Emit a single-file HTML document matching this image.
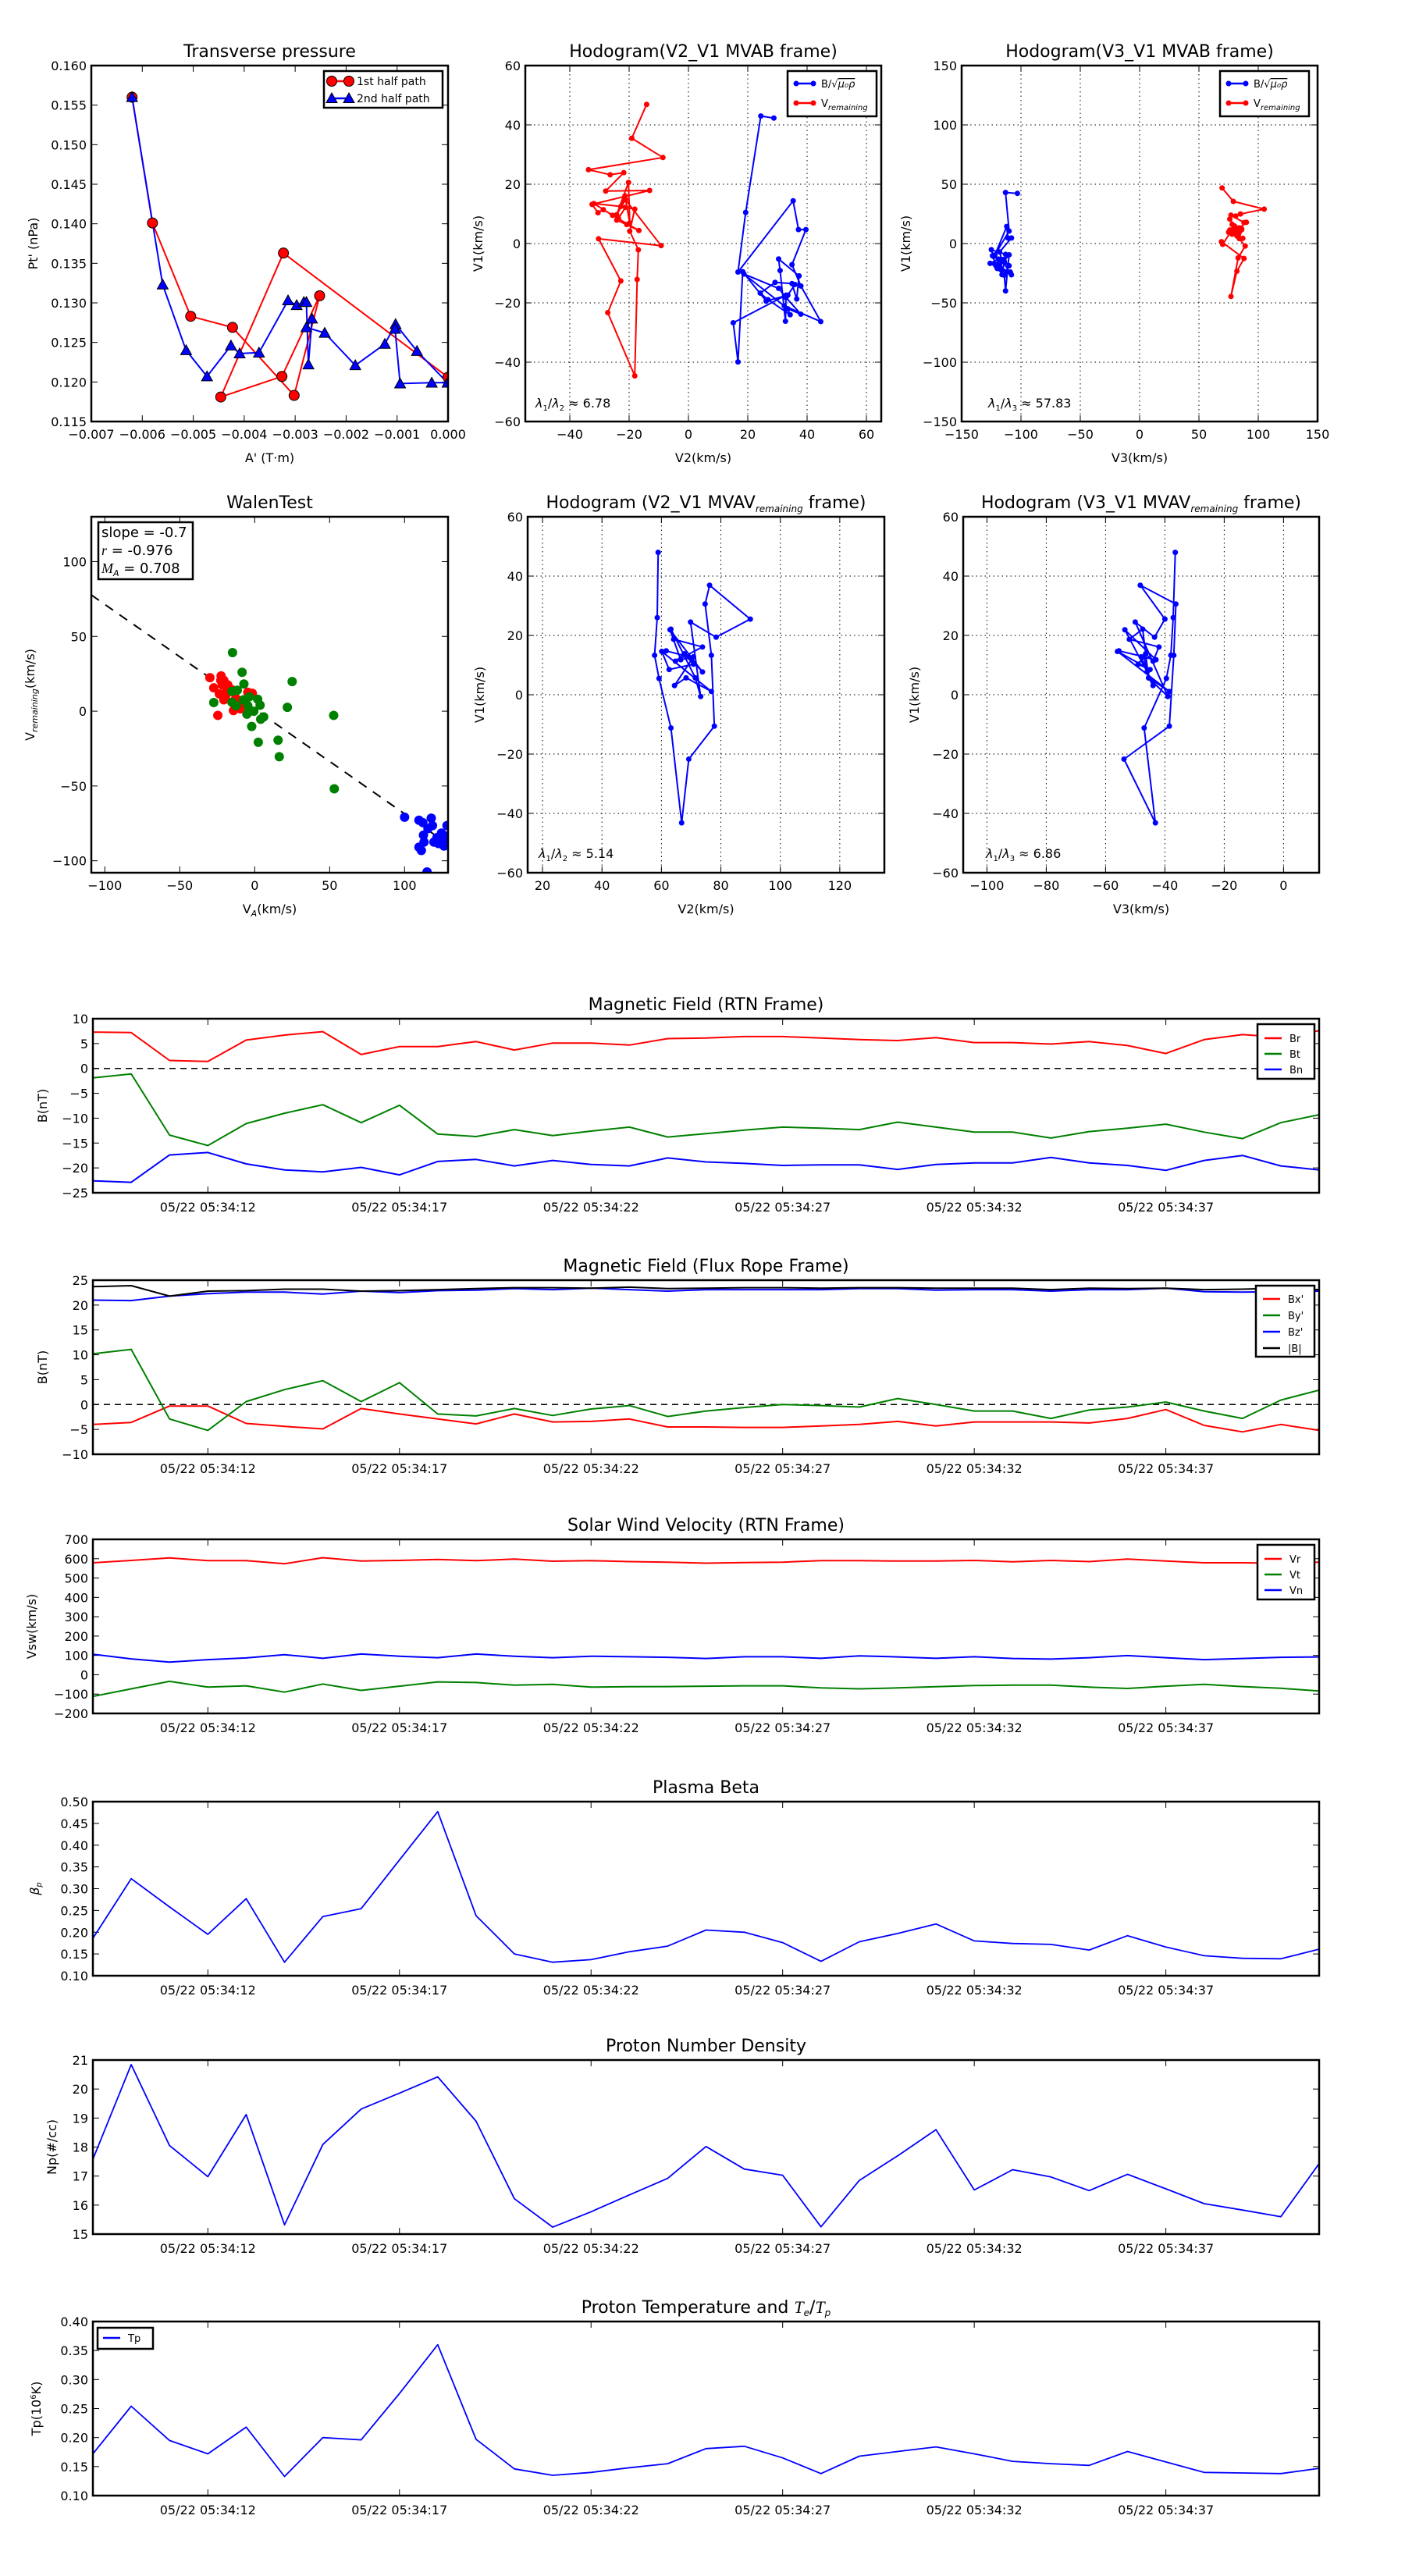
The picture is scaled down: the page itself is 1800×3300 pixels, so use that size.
<!DOCTYPE html>
<html>
<head>
<meta charset="utf-8">
<style>
html,body{margin:0;padding:0;background:#fff;}
svg{display:block;font-family:"DejaVu Sans","Liberation Sans",sans-serif;}
</style>
</head>
<body>
<svg id="fig" width="1800" height="3300" viewBox="0 0 1800 3300" xmlns="http://www.w3.org/2000/svg">
<rect x="0" y="0" width="1800" height="3300" fill="#fff"/>
</svg>
<script>
// ---------- Transverse pressure ----------
const tpRedA = [-0.00620,-0.00580,-0.00505,-0.00423,-0.00302,-0.00252,-0.00326,-0.00446,-0.00323,0.0000];
const tpRedP = [0.1560,0.1401,0.1283,0.1269,0.1183,0.1309,0.1207,0.1181,0.1363,0.1206];
const tpBlueA = [-0.00620,-0.00560,-0.00514,-0.00473,-0.00426,-0.00409,-0.00371,-0.00314,-0.00297,-0.00283,-0.00278,-0.00274,-0.00267,-0.00278,-0.00242,-0.00182,-0.00124,-0.00103,-0.00061,-0.00001,-0.00032,-0.00094,-0.00104];
const tpBlueP = [0.1560,0.1323,0.1240,0.1207,0.1246,0.1236,0.1237,0.1303,0.1297,0.1301,0.1301,0.1222,0.1280,0.1269,0.1262,0.1221,0.1248,0.1273,0.1239,0.1199,0.1199,0.1198,0.1267];
const tpXTicks = [-0.007,-0.006,-0.005,-0.004,-0.003,-0.002,-0.001,0];
const tpXLabels = ["\u22120.007","\u22120.006","\u22120.005","\u22120.004","\u22120.003","\u22120.002","\u22120.001","0.000"];
const tpYTicks = [0.115,0.120,0.125,0.130,0.135,0.140,0.145,0.150,0.155,0.160];
const tpYLabels = ["0.115","0.120","0.125","0.130","0.135","0.140","0.145","0.150","0.155","0.160"];

// ---------- Hodogram V2-V1 / V3-V1 MVAB ----------
const hbV2 = [28.8,24.4,19.3,16.7,35.3,37.1,39.6,34.9,37.9,44.6,32.3,18.7,30.4,32.9,37.9,33.5,34.3,26.8,24.2,29.2,34.9,36.5,37.3,30.4,30.9,32.7,32.9,15.1,16.7,18.3,26.2,33.5,35.9];
const hbV1 = [42.3,43.0,10.5,-9.6,14.4,4.7,4.7,-7.1,-14.3,-26.3,-21.0,-10.3,-15.1,-18.2,-23.8,-22.0,-24.0,-18.9,-16.7,-13.1,-13.5,-18.7,-10.9,-5.2,-9.1,-26.2,-17.4,-26.7,-39.9,-9.5,-19.4,-17.4,-13.8];
const hbV3 = [-103,-113,-110,-122,-112,-111,-108,-118,-116,-108,-120,-124,-114,-118,-112,-117,-109,-121,-126,-119,-115,-110,-123,-125,-113,-116,-120,-114,-113,-110,-118,-122,-116];
const hrV2 = [-14.1,-19.1,-8.6,-33.7,-26.4,-21.8,-27.9,-13.1,-32.5,-30.5,-28.7,-23.6,-21.2,-18.1,-19.8,-16.9,-17.3,-18.1,-27.2,-22.8,-30.3,-9.2,-21.2,-24.2,-20.2,-19.8,-21.4,-22.8,-31.9,-25.6,-16.7,-20.8,-24.2];
const hrV1 = [46.9,35.5,29.0,24.9,23.2,23.9,17.7,17.9,13.2,10.4,11.4,8.5,12.2,11.6,4.2,-2.1,-12.1,-44.6,-23.3,-12.6,1.6,-0.7,14.8,9.7,20.6,6.9,16.1,12.5,13.5,9.5,4.4,6.4,7.9];
const hrV3 = [69.5,79,105,85,81,77,88,90,84,80,76,82,79,86,84,89,83,77,82,88,69,70,80,84,76,83,78,86,81,75,87,82,78];
const h1XTicks = [-40,-20,0,20,40,60];
const h1XLabels = ["\u221240","\u221220","0","20","40","60"];
const hYTicks60 = [-60,-40,-20,0,20,40,60];
const hYLabels60 = ["\u221260","\u221240","\u221220","0","20","40","60"];
const h3XTicks = [-150,-100,-50,0,50,100,150];
const h3XLabels = ["\u2212150","\u2212100","\u221250","0","50","100","150"];
const h3YTicks = [-150,-100,-50,0,50,100,150];
const h3YLabels = ["\u2212150","\u2212100","\u221250","0","50","100","150"];

// ---------- Walen test ----------
const wRedX = [-29.9,-27.3,-22.4,-20.6,-18.0,-24.6,-14.2,-23.6,-20.6,-15.6,-11.6,-9.6,-1.6,-4.6,-17.6,-19.6,-22.6,-21.6,-18.6,-12.6,-6.6];
const wRedY = [22.4,15.6,23.6,20.6,17.6,-2.8,0.4,11.6,7.6,14.6,3.6,1.6,12.0,12.6,12.6,9.6,20.6,17.6,13.6,8.6,6.6];
const wGreenX = [-14.8,-8.4,-7.2,25.0,21.8,52.7,53.1,16.4,15.6,2.4,-2.0,6.0,4.0,3.6,2.0,-5.2,-0.6,-27.3,-15.2,-11.6,-15.2,-12.4,-7.6,-4.6,-3.6];
const wGreenY = [39.2,26.0,18.2,19.8,2.6,-2.8,-51.9,-30.4,-19.4,-20.8,-10.2,-3.8,-5.4,4.0,8.0,-2.0,0.0,5.8,13.2,14.0,6.0,3.6,7.6,3.6,9.6];
const wBlueX = [100,109.6,112.2,117.8,115.6,118.6,112.6,113,109.6,111.2,121.6,124.6,126.3,128.3,122.6,119.6,115,126.7,128.3];
const wBlueY = [-70.9,-72.9,-74.5,-71.5,-78.5,-76.5,-82.9,-87.5,-90.9,-93.1,-84.5,-81.5,-90.1,-76.5,-88.5,-87.5,-107.5,-86.5,-83.5];
const wFit = [-0.7, 1.4];
const wXTicks = [-100,-50,0,50,100];
const wXLabels = ["\u2212100","\u221250","0","50","100"];
const wYTicks = [-100,-50,0,50,100];
const wYLabels = ["\u2212100","\u221250","0","50","100"];

// ---------- Hodogram MVAV remaining ----------
const hvV2 = [58.9,58.6,57.7,59.2,63.2,66.8,69.2,77.8,76.8,74.7,76.2,89.9,78.4,69.8,73.2,71.4,63.2,64.1,73.8,64.7,67.7,70.8,62.6,60.1,76.8,68.3,64.4,70.8,66.5,62.9,73.8,69.2,61.6];
const hvV1 = [48.0,26.0,13.3,5.5,-11.2,-43.2,-21.7,-10.6,13.3,30.6,36.9,25.5,19.4,24.5,-0.6,5.7,22.1,18.7,16.1,11.3,13.8,10.3,8.5,14.6,1.1,5.7,3.1,12.8,11.8,21.9,7.7,12.8,14.8];
const hvV3 = [-36.5,-37.2,-38.0,-39.5,-47.0,-43.2,-53.8,-38.5,-37.0,-36.3,-48.3,-40.0,-43.5,-50.0,-39.0,-45.5,-47.5,-52.0,-42.0,-44.0,-46.5,-49.0,-45.0,-56.0,-38.5,-45.5,-44.0,-48.0,-43.0,-53.5,-46.0,-47.0,-55.5];
const h5XTicks = [20,40,60,80,100,120];
const h5XLabels = ["20","40","60","80","100","120"];
const h6XTicks = [-100,-80,-60,-40,-20,0];
const h6XLabels = ["\u2212100","\u221280","\u221260","\u221240","\u221220","0"];

// ---------- Time series ----------
const tsTickIdx = [3,8,13,18,23,28];
const tsTickLabels = ["05/22 05:34:12","05/22 05:34:17","05/22 05:34:22","05/22 05:34:27","05/22 05:34:32","05/22 05:34:37"];
const br = [7.3,7.2,1.6,1.4,5.7,6.7,7.4,2.8,4.4,4.4,5.4,3.7,5.1,5.1,4.7,6.0,6.1,6.4,6.4,6.1,5.8,5.6,6.2,5.2,5.2,4.9,5.4,4.6,3.0,5.8,6.8,6.3,7.6];
const bt = [-1.9,-1.1,-13.4,-15.5,-11.1,-9.0,-7.3,-10.9,-7.4,-13.2,-13.7,-12.3,-13.5,-12.6,-11.8,-13.8,-13.1,-12.4,-11.8,-12.0,-12.3,-10.8,-11.8,-12.8,-12.8,-14.0,-12.7,-12.0,-11.2,-12.8,-14.1,-10.9,-9.3];
const bn = [-22.6,-22.9,-17.4,-16.9,-19.2,-20.4,-20.8,-19.9,-21.4,-18.7,-18.3,-19.6,-18.5,-19.3,-19.6,-18.0,-18.8,-19.1,-19.5,-19.4,-19.4,-20.3,-19.3,-19.0,-19.0,-17.9,-19.0,-19.5,-20.5,-18.5,-17.5,-19.6,-20.4];
const bxp = [-4.0,-3.6,-0.3,-0.3,-3.8,-4.4,-4.9,-0.8,-1.9,-2.9,-3.9,-1.9,-3.5,-3.4,-2.9,-4.5,-4.5,-4.6,-4.6,-4.3,-4.0,-3.4,-4.3,-3.5,-3.5,-3.5,-3.7,-2.8,-1.0,-4.2,-5.5,-4.0,-5.2];
const byp = [10.2,11.1,-2.9,-5.2,0.6,3.0,4.8,0.6,4.4,-1.9,-2.3,-0.8,-2.2,-0.9,-0.2,-2.4,-1.3,-0.6,0.0,-0.2,-0.5,1.2,0.0,-1.3,-1.3,-2.8,-1.1,-0.5,0.5,-1.3,-2.8,0.9,2.9];
const bzp = [21.0,20.9,21.8,22.3,22.6,22.6,22.2,22.8,22.5,22.9,23.0,23.3,23.1,23.4,23.1,22.8,23.1,23.1,23.1,23.1,23.3,23.3,23.0,23.1,23.1,22.8,23.1,23.1,23.4,22.7,22.6,22.7,22.8];
const bmag = [23.7,23.9,21.8,22.8,22.9,23.2,23.2,22.8,22.9,23.1,23.3,23.5,23.5,23.4,23.6,23.3,23.4,23.5,23.5,23.4,23.5,23.5,23.4,23.4,23.4,23.1,23.4,23.3,23.4,23.1,23.2,23.4,23.1];
const vr = [579,591,604,590,590,574,605,588,591,596,590,598,587,590,585,582,577,580,582,590,590,588,588,591,584,591,585,598,588,579,579,577,582];
const vt = [-112,-73,-34,-64,-57,-90,-48,-81,-59,-37,-40,-54,-50,-64,-62,-61,-59,-57,-57,-68,-73,-68,-62,-56,-54,-54,-64,-71,-59,-50,-61,-70,-84];
const vn = [106,82,65,78,87,104,85,107,96,88,107,96,88,96,93,90,84,93,93,85,98,92,85,93,84,81,88,99,88,78,84,90,92];
const beta = [0.186,0.323,0.258,0.195,0.277,0.131,0.236,0.254,0.366,0.477,0.238,0.150,0.131,0.137,0.155,0.168,0.205,0.200,0.176,0.133,0.178,0.197,0.219,0.180,0.174,0.172,0.159,0.192,0.166,0.146,0.140,0.139,0.161];
const np = [17.58,20.84,18.05,16.98,19.12,15.32,18.09,19.31,19.86,20.42,18.89,16.22,15.24,15.77,16.35,16.92,18.02,17.24,17.03,15.25,16.85,17.70,18.60,16.52,17.22,16.97,16.50,17.06,16.56,16.05,15.83,15.60,17.43];
const temp = [0.172,0.254,0.195,0.172,0.218,0.133,0.200,0.196,0.276,0.360,0.197,0.146,0.135,0.140,0.148,0.155,0.181,0.185,0.165,0.138,0.168,0.176,0.184,0.172,0.159,0.155,0.152,0.176,0.158,0.140,0.139,0.138,0.147];
const bYTicks = [-25,-20,-15,-10,-5,0,5,10];
const bYLabels = ["\u221225","\u221220","\u221215","\u221210","\u22125","0","5","10"];
const frYTicks = [-10,-5,0,5,10,15,20,25];
const frYLabels = ["\u221210","\u22125","0","5","10","15","20","25"];
const vYTicks = [-200,-100,0,100,200,300,400,500,600,700];
const vYLabels = ["\u2212200","\u2212100","0","100","200","300","400","500","600","700"];
const betaYTicks = [0.10,0.15,0.20,0.25,0.30,0.35,0.40,0.45,0.50];
const betaYLabels = ["0.10","0.15","0.20","0.25","0.30","0.35","0.40","0.45","0.50"];
const npYTicks = [15,16,17,18,19,20,21];
const npYLabels = ["15","16","17","18","19","20","21"];
const tempYTicks = [0.10,0.15,0.20,0.25,0.30,0.35,0.40];
const tempYLabels = ["0.10","0.15","0.20","0.25","0.30","0.35","0.40"];

const NS = "http://www.w3.org/2000/svg";
const svg = document.getElementById('fig');
function mk(parent, tag, attrs, text) {
  const el = document.createElementNS(NS, tag);
  for (const k in attrs) el.setAttribute(k, attrs[k]);
  if (text !== undefined) el.textContent = text;
  parent.appendChild(el);
  return el;
}
function grp(name) {
  const g = mk(svg, 'g', {});
  
  
  return g;
}

function axes(name, x0, y0, w, h, xmin, xmax, ymin, ymax, opts) {
  const g = grp(name);
  const sx = v => x0 + (v - xmin) / (xmax - xmin) * w;
  const sy = v => y0 + h - (v - ymin) / (ymax - ymin) * h;
  const ax = {g, sx, sy, x0, y0, w, h};
  if (opts.grid) {
    opts.xTicks.forEach(t => {
      const gl = mk(g, 'line', {x1: sx(t), x2: sx(t), y1: y0, y2: y0 + h, stroke: '#000', 'stroke-width': 1, 'stroke-dasharray': '1.5,4'});
      
      
    });
    opts.yTicks.forEach(t => {
      const gl = mk(g, 'line', {x1: x0, x2: x0 + w, y1: sy(t), y2: sy(t), stroke: '#000', 'stroke-width': 1, 'stroke-dasharray': '1.5,4'});
      
      
    });
  }
  opts.xTicks.forEach((t, i) => {
    const xx = sx(t);
    mk(g, 'line', {x1: xx, x2: xx, y1: y0 + h, y2: y0 + h - 8, stroke: '#000', 'stroke-width': 1});
    mk(g, 'line', {x1: xx, x2: xx, y1: y0, y2: y0 + 8, stroke: '#000', 'stroke-width': 1});
    const tl = mk(g, 'text', {x: xx, y: y0 + h + (opts.xLabOff || 22), 'font-size': 16, 'text-anchor': 'middle'}, opts.xLabels[i]);
    
    
  });
  opts.yTicks.forEach((t, i) => {
    const yy = sy(t);
    mk(g, 'line', {x1: x0, x2: x0 + 8, y1: yy, y2: yy, stroke: '#000', 'stroke-width': 1});
    mk(g, 'line', {x1: x0 + w, x2: x0 + w - 8, y1: yy, y2: yy, stroke: '#000', 'stroke-width': 1});
    const tl = mk(g, 'text', {x: x0 - 6, y: yy + 6, 'font-size': 16, 'text-anchor': 'end'}, opts.yLabels[i]);
    
    
  });
  const tt = mk(g, 'text', {x: x0 + w / 2, y: y0 - 11, 'font-size': 22, 'text-anchor': 'middle'});
  tt.innerHTML = opts.title;
  
  
  if (opts.xTitle) {
    const xt = mk(g, 'text', {x: x0 + w / 2, y: y0 + h + 52, 'font-size': 16, 'text-anchor': 'middle'});
    xt.innerHTML = opts.xTitle;
    
    
  }
  const yt = mk(g, 'text', {x: 0, y: 0, 'font-size': 16, 'text-anchor': 'middle', transform: 'translate(' + opts.yTitleX + ',' + (y0 + h / 2) + ') rotate(-90)'});
  yt.innerHTML = opts.yTitle;
  
  
  const cid = 'clip-' + name;
  const cp = mk(g, 'clipPath', {id: cid});
  mk(cp, 'rect', {x: x0, y: y0, width: w, height: h});
  ax.plot = mk(g, 'g', {'clip-path': 'url(#' + cid + ')'});
  ax.frame = () => {
    const fr = mk(g, 'rect', {x: x0, y: y0, width: w, height: h, fill: 'none', stroke: '#000', 'stroke-width': 2.5});
    
    
  };
  return ax;
}

function line(ax, xs, ys, color, name, sw) {
  const pts = xs.map((x, i) => ax.sx(x).toFixed(1) + ',' + ax.sy(ys[i]).toFixed(1)).join(' ');
  const pl = mk(ax.plot, 'polyline', {points: pts, fill: 'none', stroke: color, 'stroke-width': sw || 2, 'stroke-linejoin': 'round'});
  
  
  return pl;
}
function dots(ax, xs, ys, color, r, name, outline) {
  xs.forEach((x, i) => {
    const c = mk(ax.plot, 'circle', {cx: ax.sx(x), cy: ax.sy(ys[i]), r: r, fill: color, stroke: outline ? '#000' : 'none', 'stroke-width': 1});
    
    
  });
}
function tris(ax, xs, ys, color, s, name) {
  xs.forEach((x, i) => {
    const cx = ax.sx(x), cy = ax.sy(ys[i]);
    const p = mk(ax.plot, 'polygon', {points: cx + ',' + (cy - s) + ' ' + (cx - s) + ',' + (cy + s * 0.8) + ' ' + (cx + s) + ',' + (cy + s * 0.8), fill: color, stroke: '#000', 'stroke-width': 1});
    
    
  });
}
function legendBox(ax, name, bx, by, bw, bh) {
  const r = mk(ax.g, 'rect', {x: bx, y: by, width: bw, height: bh, fill: '#fff', stroke: '#000', 'stroke-width': 2.5});
  
  
}
function legendEntry(ax, x, y, color, label, kind, fs) {
  const l = mk(ax.g, 'line', {x1: x, x2: x + 22, y1: y, y2: y, stroke: color, 'stroke-width': 2.5});
  
  
  if (kind === 'dot') { mk(ax.g, 'circle', {cx: x, cy: y, r: 3.5, fill: color}); mk(ax.g, 'circle', {cx: x + 22, cy: y, r: 3.5, fill: color}); }
  if (kind === 'bigdot') { mk(ax.g, 'circle', {cx: x, cy: y, r: 6.5, fill: color, stroke: '#000'}); mk(ax.g, 'circle', {cx: x + 22, cy: y, r: 6.5, fill: color, stroke: '#000'}); }
  if (kind === 'tri') { [x, x + 22].forEach(cx => mk(ax.g, 'polygon', {points: cx + ',' + (y - 7) + ' ' + (cx - 7) + ',' + (y + 5.5) + ' ' + (cx + 7) + ',' + (y + 5.5), fill: color, stroke: '#000'})); }
  const t = mk(ax.g, 'text', {x: x + 32, y: y + 5, 'font-size': fs || 14});
  t.innerHTML = label;
  
  
}
function note(ax, x, y, html, fs) {
  const t = mk(ax.g, 'text', {x: x, y: y, 'font-size': fs || 16});
  t.innerHTML = html;
  
  
}

// ===== Transverse pressure =====
{
  const ax = axes('transverse-pressure-chart', 117, 84, 457, 456, -0.007, 0, 0.115, 0.160,
    {xTicks: tpXTicks, xLabels: tpXLabels, yTicks: tpYTicks, yLabels: tpYLabels, title: 'Transverse pressure', xTitle: "A' (T\u00b7m)", yTitle: "Pt' (nPa)", yTitleX: 48});
  line(ax, tpRedA, tpRedP, '#f00', 'first-half-path-line', 2);
  line(ax, tpBlueA, tpBlueP, '#00f', 'second-half-path-line', 2);
  dots(ax, tpRedA, tpRedP, '#f00', 6.5, 'first-half-point', true);
  tris(ax, tpBlueA, tpBlueP, '#00f', 7, 'second-half-point');
  ax.frame();
  legendBox(ax, 'legend', 415, 91, 152, 47);
  legendEntry(ax, 425, 104, '#f00', '1st half path', 'bigdot', 14);
  legendEntry(ax, 425, 126, '#00f', '2nd half path', 'tri', 14);
}
const bLab = 'B/\u221a<tspan text-decoration="overline" font-style="italic">\u03bc\u2080\u03c1</tspan>';
const vLab = 'V<tspan font-size="10" dy="4" font-style="italic">remaining</tspan>';
// ===== Hodogram V2_V1 MVAB =====
{
  const ax = axes('hodogram-v2-v1-mvab', 673, 84, 456, 456, -55, 65, -60, 60,
    {grid: true, xTicks: h1XTicks, xLabels: h1XLabels, yTicks: hYTicks60, yLabels: hYLabels60, title: 'Hodogram(V2_V1 MVAB frame)', xTitle: 'V2(km/s)', yTitle: 'V1(km/s)', yTitleX: 618});
  line(ax, hbV2, hbV1, '#00f', 'b-alfven-hodogram-line', 2);
  dots(ax, hbV2, hbV1, '#00f', 3.5, 'b-alfven-point');
  line(ax, hrV2, hrV1, '#f00', 'v-remaining-hodogram-line', 2);
  dots(ax, hrV2, hrV1, '#f00', 3.5, 'v-remaining-point');
  ax.frame();
  legendBox(ax, 'legend', 1009, 91, 114, 58);
  legendEntry(ax, 1020, 107, '#00f', bLab, 'dot', 13);
  legendEntry(ax, 1020, 132, '#f00', vLab, 'dot', 13);
  note(ax, 686, 522, '<tspan font-style="italic">\u03bb</tspan><tspan font-size="10" dy="4">1</tspan><tspan dy="-4">/</tspan><tspan font-style="italic">\u03bb</tspan><tspan font-size="10" dy="4">2</tspan><tspan dy="-4"> \u2248 6.78</tspan>');
}
// ===== Hodogram V3_V1 MVAB =====
{
  const ax = axes('hodogram-v3-v1-mvab', 1232, 84, 456, 456, -150, 150, -150, 150,
    {grid: true, xTicks: h3XTicks, xLabels: h3XLabels, yTicks: h3YTicks, yLabels: h3YLabels, title: 'Hodogram(V3_V1 MVAB frame)', xTitle: 'V3(km/s)', yTitle: 'V1(km/s)', yTitleX: 1166});
  line(ax, hbV3, hbV1, '#00f', 'b-alfven-hodogram-line', 2);
  dots(ax, hbV3, hbV1, '#00f', 3.5, 'b-alfven-point');
  line(ax, hrV3, hrV1, '#f00', 'v-remaining-hodogram-line', 2);
  dots(ax, hrV3, hrV1, '#f00', 3.5, 'v-remaining-point');
  ax.frame();
  legendBox(ax, 'legend', 1563, 91, 114, 58);
  legendEntry(ax, 1574, 107, '#00f', bLab, 'dot', 13);
  legendEntry(ax, 1574, 132, '#f00', vLab, 'dot', 13);
  note(ax, 1266, 522, '<tspan font-style="italic">\u03bb</tspan><tspan font-size="10" dy="4">1</tspan><tspan dy="-4">/</tspan><tspan font-style="italic">\u03bb</tspan><tspan font-size="10" dy="4">3</tspan><tspan dy="-4"> \u2248 57.83</tspan>');
}
// ===== Walen test =====
{
  const ax = axes('walen-test-chart', 117, 662, 457, 456, -109, 129, -108, 130,
    {xTicks: wXTicks, xLabels: wXLabels, yTicks: wYTicks, yLabels: wYLabels, title: 'WalenTest', xTitle: 'V<tspan font-size="11" dy="4" font-style="italic">A</tspan><tspan dy="-4">(km/s)</tspan>', yTitle: 'V<tspan font-size="11" dy="4" font-style="italic">remaining</tspan><tspan dy="-4">(km/s)</tspan>', yTitleX: 44});
  const fx = [-109, 129];
  const fy = fx.map(x => wFit[0] * x + wFit[1]);
  const fl = line(ax, fx, fy, '#000', 'walen-fit-line', 2);
  fl.setAttribute('stroke-dasharray', '12,10');
  dots(ax, wRedX, wRedY, '#f00', 6, 'walen-red-point');
  dots(ax, wGreenX, wGreenY, '#008000', 6, 'walen-green-point');
  dots(ax, wBlueX, wBlueY, '#00f', 6, 'walen-blue-point');
  ax.frame();
  legendBox(ax, 'walen-stats-box', 126, 669, 121, 73);
  const s1 = mk(ax.g, 'text', {x: 130, y: 688, 'font-size': 18}, 'slope = -0.7');
  
  
  const s2 = mk(ax.g, 'text', {x: 130, y: 711, 'font-size': 18});
  s2.innerHTML = '<tspan font-style="italic" font-family="Liberation Serif, serif">r</tspan> = -0.976';
  
  
  const s3 = mk(ax.g, 'text', {x: 130, y: 734, 'font-size': 18});
  s3.innerHTML = '<tspan font-style="italic" font-family="Liberation Serif, serif">M</tspan><tspan font-size="11" dy="4" font-style="italic">A</tspan><tspan dy="-4"> = 0.708</tspan>';
  
  
}
const remSub = '<tspan font-size="12" dy="5" font-style="italic">remaining</tspan><tspan dy="-5">';
// ===== Hodogram V2_V1 MVAV remaining =====
{
  const ax = axes('hodogram-v2-v1-mvav', 676, 662, 457, 456, 15, 135, -60, 60,
    {grid: true, xTicks: h5XTicks, xLabels: h5XLabels, yTicks: hYTicks60, yLabels: hYLabels60, title: 'Hodogram (V2_V1 MVAV' + remSub + ' frame)</tspan>', xTitle: 'V2(km/s)', yTitle: 'V1(km/s)', yTitleX: 620});
  line(ax, hvV2, hvV1, '#00f', 'hodogram-line', 2);
  dots(ax, hvV2, hvV1, '#00f', 3.5, 'hodogram-point');
  ax.frame();
  note(ax, 690, 1099, '<tspan font-style="italic">\u03bb</tspan><tspan font-size="10" dy="4">1</tspan><tspan dy="-4">/</tspan><tspan font-style="italic">\u03bb</tspan><tspan font-size="10" dy="4">2</tspan><tspan dy="-4"> \u2248 5.14</tspan>');
}
// ===== Hodogram V3_V1 MVAV remaining =====
{
  const ax = axes('hodogram-v3-v1-mvav', 1234, 662, 456, 456, -108, 12, -60, 60,
    {grid: true, xTicks: h6XTicks, xLabels: h6XLabels, yTicks: hYTicks60, yLabels: hYLabels60, title: 'Hodogram (V3_V1 MVAV' + remSub + ' frame)</tspan>', xTitle: 'V3(km/s)', yTitle: 'V1(km/s)', yTitleX: 1177});
  line(ax, hvV3, hvV1, '#00f', 'hodogram-line', 2);
  dots(ax, hvV3, hvV1, '#00f', 3.5, 'hodogram-point');
  ax.frame();
  note(ax, 1263, 1099, '<tspan font-style="italic">\u03bb</tspan><tspan font-size="10" dy="4">1</tspan><tspan dy="-4">/</tspan><tspan font-style="italic">\u03bb</tspan><tspan font-size="10" dy="4">3</tspan><tspan dy="-4"> \u2248 6.86</tspan>');
}

// ===== Time series =====
const idx = br.map((_, i) => i);
function ts(name, y0, ymin, ymax, yTicks, yLabels, title, yTitle, yTitleX) {
  return axes(name, 119, y0, 1571, 223, 0, 32, ymin, ymax,
    {xTicks: tsTickIdx, xLabels: tsTickLabels, yTicks: yTicks, yLabels: yLabels, title: title, yTitle: yTitle, yTitleX: yTitleX, xLabOff: 24});
}
function zeroLine(ax) {
  const z = line(ax, [0, 32], [0, 0], '#000', 'zero-reference-line', 1.5);
  z.setAttribute('stroke-dasharray', '8,6');
}
{
  const ax = ts('magnetic-field-rtn-chart', 1305, -25, 10, bYTicks, bYLabels, 'Magnetic Field (RTN Frame)', 'B(nT)', 60);
  zeroLine(ax);
  line(ax, idx, br, '#f00', 'br-line');
  line(ax, idx, bt, '#008000', 'bt-line');
  line(ax, idx, bn, '#00f', 'bn-line');
  ax.frame();
  legendBox(ax, 'legend', 1611, 1312, 73, 70);
  legendEntry(ax, 1620, 1330, '#f00', 'Br', null, 13);
  legendEntry(ax, 1620, 1350, '#008000', 'Bt', null, 13);
  legendEntry(ax, 1620, 1370, '#00f', 'Bn', null, 13);
}
{
  const ax = ts('magnetic-field-flux-rope-chart', 1640, -10, 25, frYTicks, frYLabels, 'Magnetic Field (Flux Rope Frame)', 'B(nT)', 60);
  zeroLine(ax);
  line(ax, idx, bxp, '#f00', 'bx-prime-line');
  line(ax, idx, byp, '#008000', 'by-prime-line');
  line(ax, idx, bzp, '#00f', 'bz-prime-line');
  line(ax, idx, bmag, '#000', 'b-magnitude-line');
  ax.frame();
  legendBox(ax, 'legend', 1609, 1647, 75, 91);
  legendEntry(ax, 1618, 1664, '#f00', "Bx'", null, 13);
  legendEntry(ax, 1618, 1685, '#008000', "By'", null, 13);
  legendEntry(ax, 1618, 1706, '#00f', "Bz'", null, 13);
  legendEntry(ax, 1618, 1727, '#000', '|B|', null, 13);
}
{
  const ax = ts('solar-wind-velocity-chart', 1972, -200, 700, vYTicks, vYLabels, 'Solar Wind Velocity (RTN Frame)', 'Vsw(km/s)', 46);
  line(ax, idx, vr, '#f00', 'vr-line');
  line(ax, idx, vt, '#008000', 'vt-line');
  line(ax, idx, vn, '#00f', 'vn-line');
  ax.frame();
  legendBox(ax, 'legend', 1611, 1979, 73, 70);
  legendEntry(ax, 1620, 1997, '#f00', 'Vr', null, 13);
  legendEntry(ax, 1620, 2017, '#008000', 'Vt', null, 13);
  legendEntry(ax, 1620, 2037, '#00f', 'Vn', null, 13);
}
{
  const ax = ts('plasma-beta-chart', 2308, 0.10, 0.50, betaYTicks, betaYLabels, 'Plasma Beta', '<tspan font-style="italic">\u03b2</tspan><tspan font-size="10" dy="3" font-style="italic">p</tspan>', 50);
  line(ax, idx, beta, '#00f', 'beta-line', 1.8);
  ax.frame();
}
{
  const ax = ts('proton-density-chart', 2639, 15, 21, npYTicks, npYLabels, 'Proton Number Density', 'Np(#/cc)', 72);
  line(ax, idx, np, '#00f', 'density-line', 1.8);
  ax.frame();
}
{
  const ax = ts('proton-temperature-chart', 2974, 0.10, 0.40, tempYTicks, tempYLabels,
    'Proton Temperature and <tspan font-style="italic" font-family="Liberation Serif, serif">T</tspan><tspan font-size="12" dy="4" font-style="italic">e</tspan><tspan dy="-4">/</tspan><tspan font-style="italic" font-family="Liberation Serif, serif">T</tspan><tspan font-size="12" dy="4" font-style="italic">p</tspan>',
    'Tp(10<tspan font-size="10" dy="-6">6</tspan><tspan dy="6">K)</tspan>', 52);
  line(ax, idx, temp, '#00f', 'tp-line', 1.8);
  ax.frame();
  legendBox(ax, 'legend', 125, 2982, 71, 27);
  legendEntry(ax, 132, 2995, '#00f', 'Tp', null, 13);
}
</script>
</body>
</html>
